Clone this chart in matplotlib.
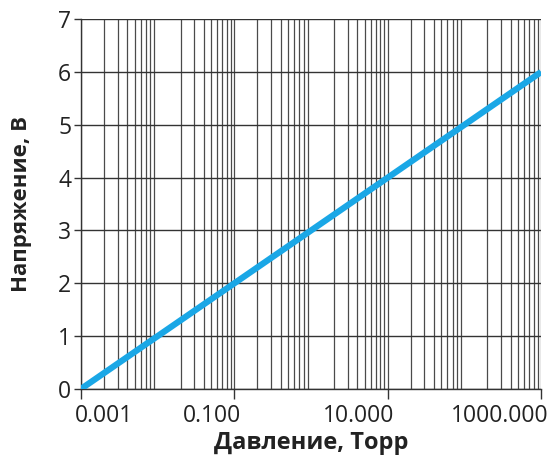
import matplotlib.pyplot as plt
import matplotlib.transforms as mtransforms
from matplotlib.ticker import LogLocator, NullFormatter

# Données
pression = [0.001, 1000.0]          # Torr
tension = [0.0, 6.0]                # V
xticks = [0.001, 0.1, 10.0, 1000.0]
xlabels = ['0.001', '0.100', '10.000', '1000.000']
yticks = [0, 1, 2, 3, 4, 5, 6, 7]

plt.rcParams['font.family'] = ['Open Sans', 'DejaVu Sans']

fig = plt.figure(figsize=(5.51, 4.57), dpi=100)
ax = fig.add_axes([0.147, 0.149, 0.835, 0.809])

ax.set_xscale('log')
ax.set_xlim(0.001, 1000)
ax.set_ylim(0, 7)

# Grille : toutes les décades et sous-décades
ax.xaxis.set_minor_locator(LogLocator(base=10, subs=range(2, 10), numticks=50))
ax.xaxis.set_minor_formatter(NullFormatter())
ax.grid(True, which='both', axis='x', color='#4a4a4a', lw=0.9)
ax.grid(True, which='major', axis='y', color='#333333', lw=1)
ax.set_axisbelow(True)

ax.plot(pression, tension, color='#1AA7E6', lw=4.5, solid_capstyle='butt', zorder=3)

ax.set_xticks(xticks)
ax.set_xticklabels(xlabels)
ax.set_yticks(yticks)
ax.tick_params(axis='x', which='major', length=7, width=1, color='#333333',
               labelsize=16.5, labelcolor='#222222', pad=4)
ax.tick_params(axis='x', which='minor', length=0)
ax.tick_params(axis='y', length=5, width=1, color='#333333',
               labelsize=16.5, labelcolor='#222222', pad=2)

# Étiquettes décalées comme dans l'original
for i, lab in enumerate(ax.get_xticklabels()):
    if i == 0:
        lab.set_horizontalalignment('left')
        dx = -6
    else:
        lab.set_horizontalalignment('right')
        dx = 7
    lab.set_transform(lab.get_transform() +
                      mtransforms.ScaledTranslation(dx / 100, 0, fig.dpi_scale_trans))

for s in ['top', 'right']:
    ax.spines[s].set_visible(False)
for s in ['left', 'bottom']:
    ax.spines[s].set_color('#333333')
    ax.spines[s].set_linewidth(1)

ax.set_xlabel('Давление, Торр', fontsize=17, fontweight='bold', color='#222222', labelpad=2)
ax.set_ylabel('Напряжение, В', fontsize=16, fontweight='bold', color='#222222', labelpad=19)

plt.savefig('out.png', dpi=100)
